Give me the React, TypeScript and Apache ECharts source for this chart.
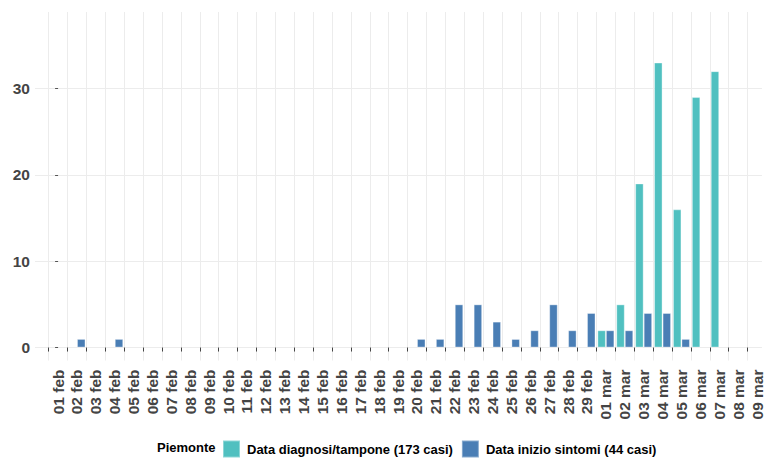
import React, { useEffect, useRef } from "react";
import * as echarts from "echarts";

const categories = [
  "01 feb", "02 feb", "03 feb", "04 feb", "05 feb", "06 feb", "07 feb", "08 feb", "09 feb", "10 feb",
  "11 feb", "12 feb", "13 feb", "14 feb", "15 feb", "16 feb", "17 feb", "18 feb", "19 feb", "20 feb",
  "21 feb", "22 feb", "23 feb", "24 feb", "25 feb", "26 feb", "27 feb", "28 feb", "29 feb",
  "01 mar", "02 mar", "03 mar", "04 mar", "05 mar", "06 mar", "07 mar", "08 mar", "09 mar",
];

// Data diagnosi/tampone
const diagnosi = [
  0, 0, 0, 0, 0, 0, 0, 0, 0, 0,
  0, 0, 0, 0, 0, 0, 0, 0, 0, 0,
  0, 0, 0, 0, 0, 0, 0, 0, 0,
  2, 5, 19, 33, 16, 29, 32, 0, 0,
];

// Data inizio sintomi
const sintomi = [
  0, 1, 0, 1, 0, 0, 0, 0, 0, 0,
  0, 0, 0, 0, 0, 0, 0, 0, 0, 1,
  1, 5, 5, 3, 1, 2, 5, 2, 4,
  2, 2, 4, 4, 1, 0, 0, 0, 0,
];

const yTicks = [0, 10, 20, 30];

const seriesNames = ["Data diagnosi/tampone (173 casi)", "Data inizio sintomi (44 casi)"];
const legendTitle = "Piemonte";

const FONT = "'Liberation Sans', Arial, sans-serif";

export default function App() {
  const ref = useRef<HTMLDivElement>(null);

  useEffect(() => {
    if (!ref.current) return;
    const chart = echarts.init(ref.current, undefined, { renderer: "svg" });
    const centers = categories.map((_, i) => i);
    const boundaries = categories.map((_, i) => i - 0.5);
    const toData = (arr: number[]) => arr.map((v, i) => [i, v === 0 ? null : v]);

    chart.setOption({
      animation: false,
      backgroundColor: "#ffffff",
      title: {
        text: legendTitle,
        left: 157,
        top: 441,
        padding: 0,
        textStyle: { fontFamily: FONT, fontSize: 13, fontWeight: "bold", color: "#000" },
      },
      legend: {
        left: 222,
        top: 439.5,
        padding: 0,
        itemWidth: 17,
        itemHeight: 17,
        itemGap: 8,
        icon: "rect",
        textStyle: { fontFamily: FONT, fontSize: 13, fontWeight: "bold", color: "#000", padding: [0, 0, 0, 2] },
        data: seriesNames,
      },
      grid: { left: 35, right: 0, top: 12, bottom: 97.5, containLabel: false },
      xAxis: {
        type: "value",
        min: -1.222,
        max: 37.26,
        axisLine: { show: false },
        axisTick: {
          show: true,
          customValues: boundaries,
          length: 4,
          lineStyle: { color: "#444", width: 1 },
        },
        axisLabel: {
          customValues: centers,
          formatter: (v: number) => categories[Math.round(v)] ?? "",
          rotate: 90,
          margin: 9,
          fontFamily: FONT,
          fontSize: 15.5,
          fontWeight: "bold",
          color: "#444444",
        },
        splitLine: { show: true, lineStyle: { color: "#ececec", width: 1 } },
      },
      yAxis: {
        type: "value",
        min: -1.5,
        max: 38.85,
        axisLine: { show: false },
        axisTick: {
          show: true,
          customValues: yTicks,
          length: 3,
          lineStyle: { color: "#555", width: 1 },
        },
        axisLabel: {
          customValues: yTicks,
          margin: 5,
          fontFamily: FONT,
          fontSize: 15.5,
          fontWeight: "bold",
          color: "#444444",
        },
        splitLine: { show: true, lineStyle: { color: "#ececec", width: 1 } },
      },
      series: [
        {
          name: seriesNames[0],
          type: "bar",
          data: toData(diagnosi),
          barWidth: 8.5,
          barGap: "0%",
          itemStyle: { color: "#50C0C0", borderColor: "rgba(255,255,255,0.35)", borderWidth: 1 },
        },
        {
          name: seriesNames[1],
          type: "bar",
          data: toData(sintomi),
          barWidth: 8.5,
          barGap: "0%",
          itemStyle: { color: "#4A7EB5", borderColor: "rgba(255,255,255,0.35)", borderWidth: 1 },
        },
      ],
    });

    return () => chart.dispose();
  }, []);

  return (
    <div
      ref={ref}
      style={{ position: "fixed", left: 0, top: 0, width: 765, height: 458 }}
    />
  );
}
